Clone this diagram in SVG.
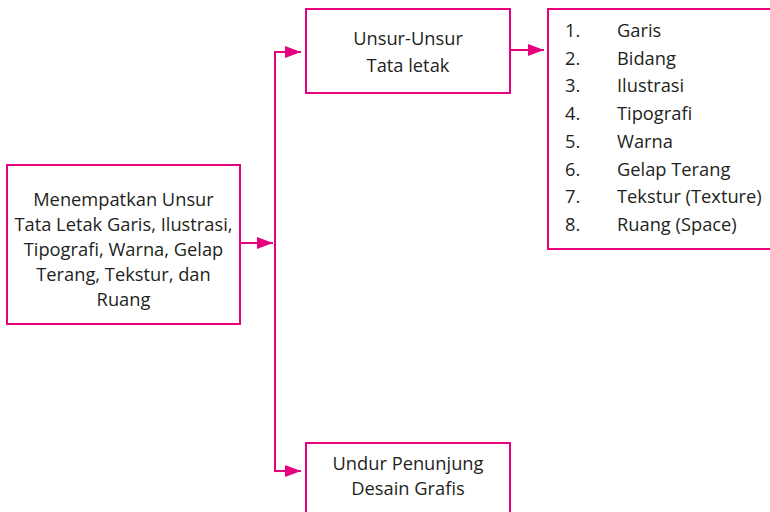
<svg xmlns="http://www.w3.org/2000/svg" width="770" height="512" viewBox="0 0 770 512">
<style>
.box{fill:#fff;stroke:#E6007E;stroke-width:2}
.ln{fill:none;stroke:#E6007E;stroke-width:2}
text{font-family:"Open Sans","Liberation Sans",sans-serif;font-size:18.3px;fill:#231F20}
.c{text-anchor:middle}
</style>
<defs>
<marker id="ah" markerWidth="16" markerHeight="12" refX="16" refY="6" orient="auto" markerUnits="userSpaceOnUse">
<path d="M0,0 L16,6 L0,12 Z" fill="#E6007E"/>
</marker>
</defs>
<rect width="770" height="512" fill="#fff"/>
<g id="connectors">
<path class="ln" d="M240,243 H273" marker-end="url(#ah)"/>
<path class="ln" d="M275,52 V471"/>
<path class="ln" d="M274,52 H301" marker-end="url(#ah)"/>
<path class="ln" d="M274,471 H301" marker-end="url(#ah)"/>
<path class="ln" d="M510,50 H544" marker-end="url(#ah)"/>
</g>
<g id="n1">
<rect class="box" x="7" y="165" width="233" height="159"/>
<text class="c" x="123.5" y="206">Menempatkan Unsur</text>
<text class="c" x="123.5" y="231">Tata Letak Garis, Ilustrasi,</text>
<text class="c" x="123.5" y="256">Tipografi, Warna, Gelap</text>
<text class="c" x="123.5" y="281">Terang, Tekstur, dan</text>
<text class="c" x="123.5" y="306">Ruang</text>
</g>
<g id="n2">
<rect class="box" x="306" y="9" width="204" height="84"/>
<text class="c" x="408" y="45">Unsur-Unsur</text>
<text class="c" x="408" y="72">Tata letak</text>
</g>
<g id="n3">
<rect class="box" x="548" y="9" width="230" height="240"/>
<text x="565" y="37">1.</text><text x="617" y="37">Garis</text>
<text x="565" y="64.7">2.</text><text x="617" y="64.7">Bidang</text>
<text x="565" y="92.4">3.</text><text x="617" y="92.4">Ilustrasi</text>
<text x="565" y="120.1">4.</text><text x="617" y="120.1">Tipografi</text>
<text x="565" y="147.8">5.</text><text x="617" y="147.8">Warna</text>
<text x="565" y="175.5">6.</text><text x="617" y="175.5">Gelap Terang</text>
<text x="565" y="203.2">7.</text><text x="617" y="203.2">Tekstur (Texture)</text>
<text x="565" y="230.9">8.</text><text x="617" y="230.9">Ruang (Space)</text>
</g>
<g id="n4">
<rect class="box" x="306" y="443" width="204" height="80"/>
<text class="c" x="408" y="470">Undur Penunjung</text>
<text class="c" x="408" y="495">Desain Grafis</text>
</g>
</svg>
